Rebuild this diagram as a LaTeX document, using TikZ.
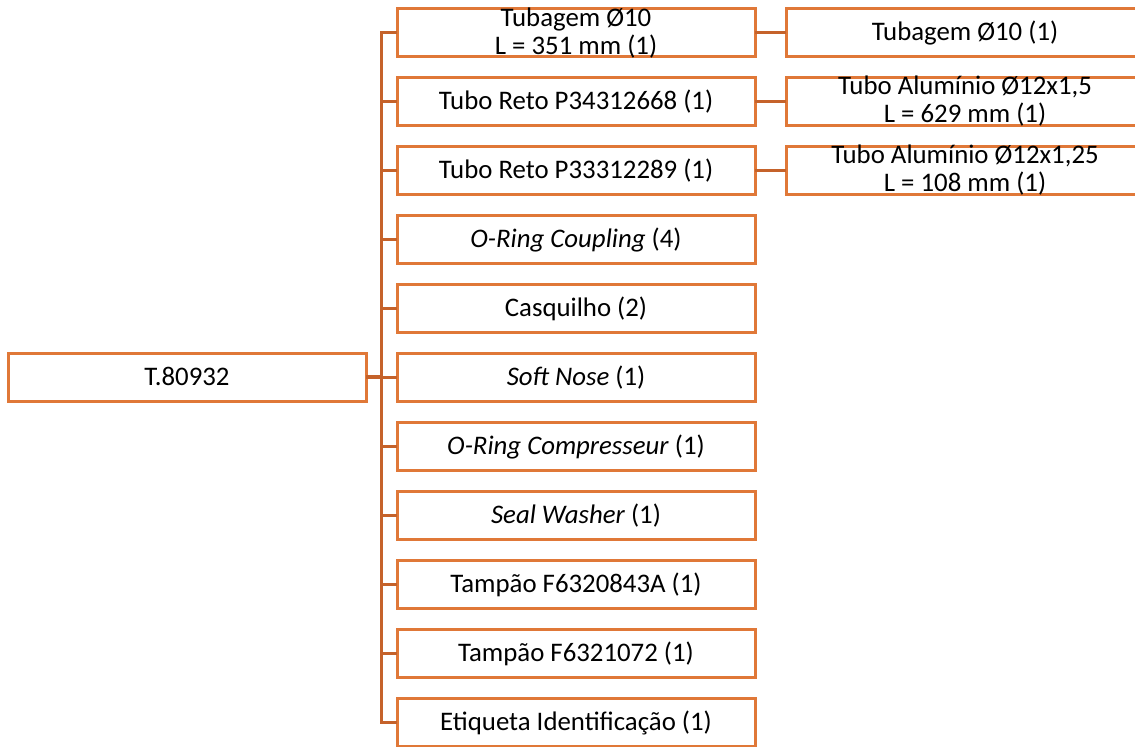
\documentclass[tikz,border=0pt]{standalone}
\usepackage{fontspec}
\setmainfont{Carlito}
\usetikzlibrary{positioning,calc}

\definecolor{boxorange}{RGB}{224,120,56}
\definecolor{linkorange}{RGB}{197,98,42}

\begin{document}
\begin{tikzpicture}[
        x=0.5pt, y=-0.5pt,
        node distance=10.5pt and 15.5pt,
        part/.style={draw=boxorange,line width=1.5pt,fill=white,align=center,
            minimum width=179pt,minimum height=24pt,inner sep=0pt,outer sep=0pt,
            font=\fontsize{13.4}{13.75}\selectfont,text height=11pt,text depth=3pt},
        twoline/.style={text height=21pt,text depth=0pt},
        link/.style={draw=linkorange,line width=1.5pt}
    ]
        \useasboundingbox (0,0) rectangle (1135,746);

        % middle column
        \node[part,twoline,text height=22pt] (p1) at (576,32) {Tubagem Ø10\\L = 351 mm (1)};
        \node[part,below=of p1] (p2) {Tubo Reto P34312668 (1)};
        \node[part,below=of p2] (p3) {Tubo Reto P33312289 (1)};
        \node[part,below=of p3] (p4) {\textit{O-Ring Coupling} (4)};
        \node[part,below=of p4] (p5) {Casquilho (2)};
        \node[part,below=of p5] (p6) {\textit{Soft Nose} (1)};
        \node[part,below=of p6] (p7) {\textit{O-Ring Compresseur} (1)};
        \node[part,below=of p7] (p8) {\textit{Seal Washer} (1)};
        \node[part,below=of p8] (p9) {Tampão F6320843A (1)};
        \node[part,below=of p9] (p10) {Tampão F6321072 (1)};
        \node[part,below=of p10] (p11) {Etiqueta Identificação (1)};

        % root
        \node[part,left=of p6] (top) {T.80932};

        % right column
        \node[part,right=of p1] (s1) {Tubagem Ø10 (1)};
        \node[part,twoline,right=of p2] (s2) {Tubo Alumínio Ø12x1,5\\L = 629 mm (1)};
        \node[part,twoline,right=of p3] (s3) {Tubo Alumínio Ø12x1,25\\L = 108 mm (1)};

        \coordinate (spine) at ($(top.east)!0.5!(p6.west)$);

        \draw[link,line width=2pt] (top.east) -- (spine);
        \draw[link] (p1.west) -| (spine) |- (p11.west);
        \foreach \i in {2,...,10}
            \draw[link] (spine |- p\i) -- (p\i.west);
        \foreach \i in {1,2,3}
            \draw[link] (p\i) -- (s\i);
    \end{tikzpicture}
\end{document}
